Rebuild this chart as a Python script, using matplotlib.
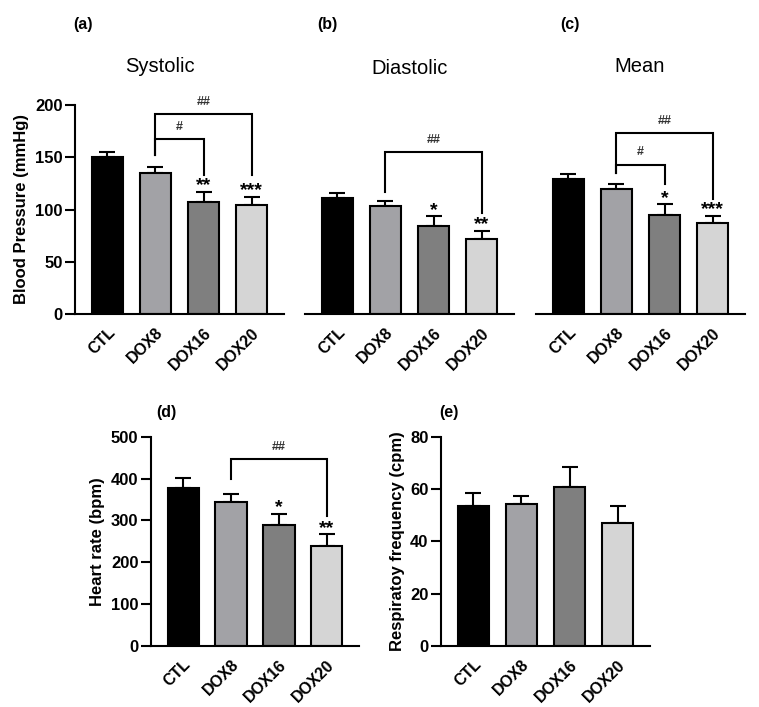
import matplotlib
matplotlib.use("Agg")
import matplotlib.pyplot as plt

plt.rcParams['font.family'] = ['Liberation Sans', 'DejaVu Sans']

groups = ["CTL", "DOX8", "DOX16", "DOX20"]
colors = ["#000000", "#a2a2a6", "#7f7f7f", "#d5d5d5"]

sys_mean = [150, 135, 107, 104]
sys_err = [5, 6, 10, 8]
dia_mean = [111, 103, 84, 72]
dia_err = [5, 5.5, 9.5, 7.5]
mean_mean = [129, 120, 95, 87]
mean_err = [4.5, 4.5, 10, 7]
hr_mean = [378, 345, 289, 240]
hr_err = [23, 18, 27, 27]
rf_mean = [53.4, 54.2, 60.9, 47.1]
rf_err = [5.1, 3.0, 7.5, 6.3]

sys_stars = ["", "", "**", "***"]
dia_stars = ["", "", "*", "**"]
mean_stars = ["", "", "*", "***"]
hr_stars = ["", "", "*", "**"]

# brackets: (from group, to group, y level, left end, right end, label)
sys_brackets = [(1, 2, 167, 152, 133, "#"), (1, 3, 191, 152, 133, "##")]
dia_brackets = [(1, 3, 155, 117, 97, "##")]
mean_brackets = [(1, 2, 143, 135, 124, "#"), (1, 3, 173, 135, 110, "##")]
hr_brackets = [(1, 3, 446, 398, 311, "##")]

W, H = 759, 707
fig = plt.figure(figsize=(W / 100, H / 100), dpi=100)


def make_ax(left, right, top, bottom):
    return fig.add_axes([left / W, 1 - bottom / H, (right - left) / W, (bottom - top) / H])


def draw(ax, means, errs, ymax, yticks, stars, brackets, show_y, ylabel, unit):
    x = list(range(len(groups)))
    ax.bar(x, means, width=0.65, color=colors, edgecolor="black", linewidth=1.5, zorder=2)
    ax.errorbar(x, means, yerr=[[0] * len(errs), errs], fmt="none", ecolor="black",
                elinewidth=1.5, capsize=6, capthick=1.5, zorder=1)
    for xi, m, e, s in zip(x, means, errs, stars):
        if s:
            ax.text(xi, m + e - unit * 0.25, s, ha="center", va="bottom",
                    fontsize=14, fontweight="bold")
    for g1, g2, yl, y1, y2, lab in brackets:
        ax.plot([g1, g1, g2, g2], [y1, yl, yl, y2], color="black", lw=1.5,
                solid_joinstyle="miter", clip_on=False)
        ax.text((g1 + g2) / 2, yl + unit * 0.6, lab, ha="center", va="bottom",
                fontsize=9, fontweight="bold", color="#333333")
    ax.set_xlim(-0.67, 3.67)
    ax.set_ylim(0, ymax)
    ax.set_xticks(x)
    ax.set_xticklabels(groups, rotation=45, ha="right", rotation_mode="anchor",
                       fontsize=11.5, fontweight="bold")
    ax.tick_params(axis="x", length=0, pad=8)
    for sp in ["top", "right"]:
        ax.spines[sp].set_visible(False)
    ax.spines["bottom"].set_linewidth(1.5)
    if show_y:
        ax.set_yticks(yticks)
        ax.set_yticklabels([str(t) for t in yticks], fontsize=12, fontweight="bold")
        ax.tick_params(axis="y", length=7, width=1.5, pad=2)
        ax.spines["left"].set_linewidth(1.5)
        ax.set_ylabel(ylabel, fontsize=12, fontweight="bold", labelpad=4)
    else:
        ax.spines["left"].set_visible(False)
        ax.set_yticks([])


axa = make_ax(75, 284, 105, 314)
axb = make_ax(305, 514, 105, 314)
axc = make_ax(536, 745, 105, 314)
axd = make_ax(151, 359, 436.7, 646)
axe = make_ax(441, 650, 436.7, 646)

draw(axa, sys_mean, sys_err, 200, [0, 50, 100, 150, 200], sys_stars, sys_brackets, True,
     "Blood Pressure (mmHg)", 10)
draw(axb, dia_mean, dia_err, 200, [], dia_stars, dia_brackets, False, "", 10)
draw(axc, mean_mean, mean_err, 200, [], mean_stars, mean_brackets, False, "", 10)
draw(axd, hr_mean, hr_err, 500, [0, 100, 200, 300, 400, 500], hr_stars, hr_brackets, True,
     "Heart rate (bpm)", 25)
draw(axe, rf_mean, rf_err, 80, [0, 20, 40, 60, 80], ["", "", "", ""], [], True,
     "Respiratoy frequency (cpm)", 4)

for txt, x, y in [("(a)", 83, 25), ("(b)", 327, 25), ("(c)", 570, 25),
                  ("(d)", 166, 412), ("(e)", 449, 412)]:
    fig.text(x / W, 1 - y / H, txt, ha="center", va="center", fontsize=11.5, fontweight="bold")

for txt, x, y in [("Systolic", 160, 67), ("Diastolic", 410, 68), ("Mean", 640, 67)]:
    fig.text(x / W, 1 - y / H, txt, ha="center", va="center", fontsize=14.5)

fig.savefig("out.png", dpi=100, facecolor="white")
